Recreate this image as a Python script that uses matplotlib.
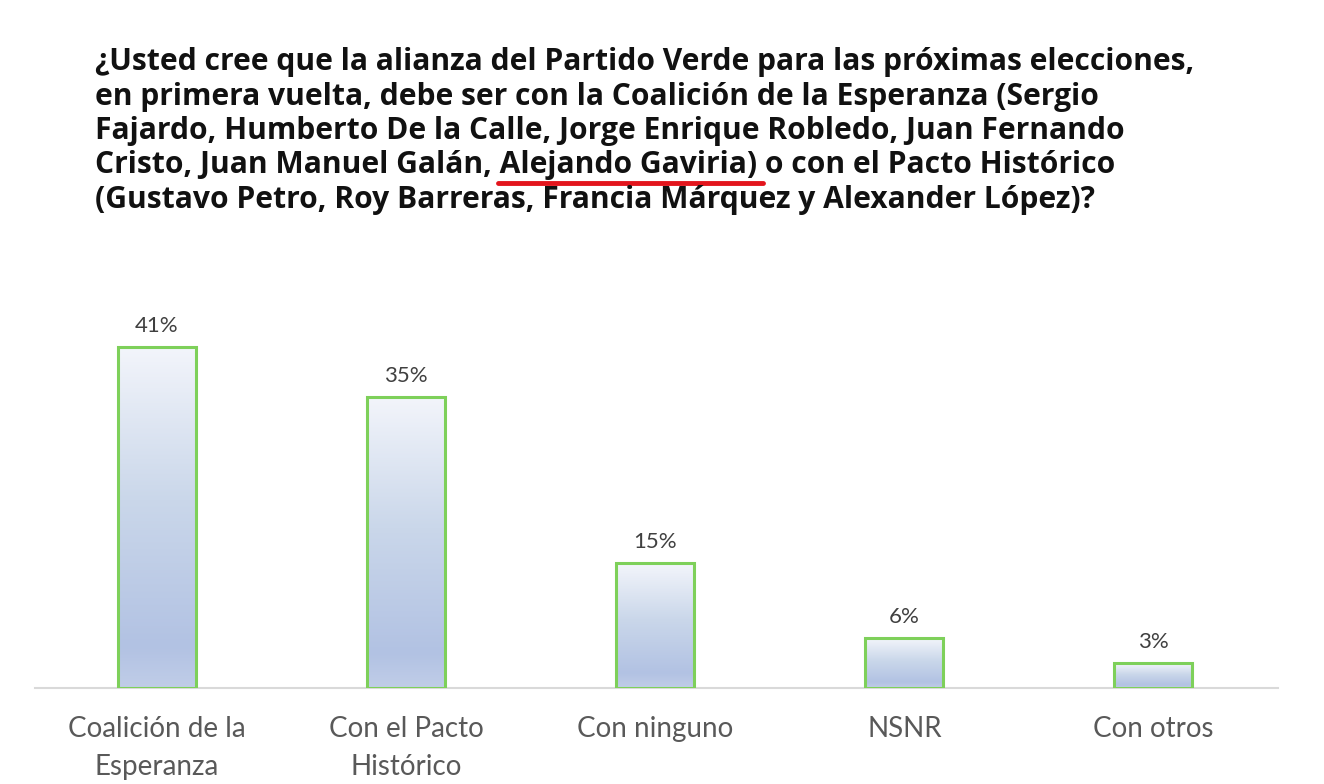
import matplotlib
matplotlib.use("Agg")
import matplotlib.pyplot as plt
import numpy as np
from matplotlib.colors import LinearSegmentedColormap
from matplotlib.lines import Line2D

categories = ["Coalición de la\nEsperanza", "Con el Pacto\nHistórico", "Con ninguno", "NSNR", "Con otros"]
values = [41, 35, 15, 6, 3]
value_labels = ["41%", "35%", "15%", "6%", "3%"]

title_lines = [
    "¿Usted cree que la alianza del Partido Verde para las próximas elecciones,",
    "en primera vuelta, debe ser con la Coalición de la Esperanza (Sergio",
    "Fajardo, Humberto De la Calle, Jorge Enrique Robledo, Juan Fernando",
    "Cristo, Juan Manuel Galán, Alejando Gaviria) o con el Pacto Histórico",
    "(Gustavo Petro, Roy Barreras, Francia Márquez y Alexander López)?",
]
underlined = "Alejando Gaviria)"

W, H = 1324, 784
fig = plt.figure(figsize=(W / 100, H / 100), dpi=100)
fig.patch.set_facecolor("white")

ax = fig.add_axes([35 / W, 1 - 688 / H, (1278 - 35) / W, (688 - 313.6) / H])
x = np.arange(len(categories))
bars = ax.bar(x, values, width=0.313, facecolor="none", edgecolor="#7ed05a", linewidth=2.2, zorder=3)

cmap = LinearSegmentedColormap.from_list("g", [(0, "#c0cde8"), (0.12, "#b2c2e3"), (0.55, "#cad7ea"), (1, "#f3f5fb")])
grad = np.linspace(0, 1, 256).reshape(-1, 1)
for b in bars:
    x0, y0 = b.get_x(), b.get_y()
    w, h = b.get_width(), b.get_height()
    im = ax.imshow(grad, extent=[x0, x0 + w, y0, y0 + h], origin="lower", cmap=cmap,
                   aspect="auto", zorder=2, interpolation="bilinear")
    im.set_clip_path(b)
for b, lab in zip(bars, value_labels):
    ax.text(b.get_x() + b.get_width() / 2, b.get_height() + 1.3, lab, ha="center", va="bottom",
            fontsize=16, color="#404040", family="Lato")

ax.set_xlim(-0.49, 4.5)
ax.set_ylim(0, 45)
for s in ["top", "right", "left"]:
    ax.spines[s].set_visible(False)
ax.spines["bottom"].set_color("#d9d9d9")
ax.spines["bottom"].set_linewidth(1.5)
ax.set_yticks([])
ax.set_xticks(x)
ax.set_xticklabels(categories, fontsize=20, color="#595959", family="Lato", linespacing=1.6)
ax.tick_params(axis="x", length=0, pad=20)

# Title lines
fs = 21.6
title_y = [62, 97, 131, 165, 200]
texts = []
for line, yy in zip(title_lines, title_y):
    t = fig.text(95 / W, 1 - yy / H, line, ha="left", va="center", fontsize=fs,
                 fontweight="bold", family="Open Sans", color="#111111")
    texts.append(t)

fig.canvas.draw()
r = fig.canvas.get_renderer()
t4 = texts[3]
tmp_full = fig.text(0, 0, "Cristo, Juan Manuel Galán, Alejando Gaviria)", fontsize=fs,
                    fontweight="bold", family="Open Sans")
tmp_u = fig.text(0, 0, underlined, fontsize=fs, fontweight="bold", family="Open Sans")
wf = tmp_full.get_window_extent(r).width
wu = tmp_u.get_window_extent(r).width
tmp_full.remove()
tmp_u.remove()
ext = t4.get_window_extent(r)
xs = ext.x0 + wf - wu - 2
xe = ext.x0 + wf + 6
yl = ext.y0 - 3
fig.add_artist(Line2D([xs / W, xe / W], [yl / H, yl / H], transform=fig.transFigure,
                      color="#e3141c", linewidth=3.5, solid_capstyle="round"))

fig.savefig("out.png", dpi=100, facecolor="white")
